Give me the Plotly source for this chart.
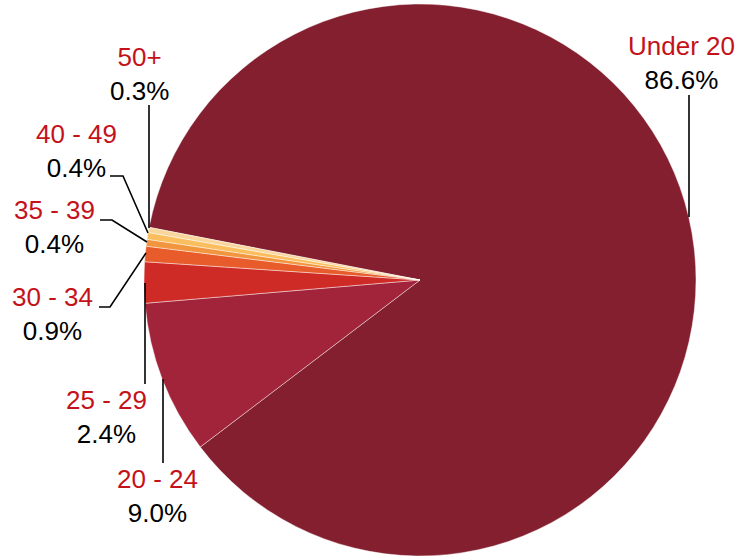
import plotly.graph_objects as go

# ---- data ----
categories = ["Under 20", "20 - 24", "25 - 29", "30 - 34", "35 - 39", "40 - 49", "50+"]
shares = [86.6, 9.0, 2.4, 0.9, 0.4, 0.4, 0.3]
pct_labels = ["86.6%", "9.0%", "2.4%", "0.9%", "0.4%", "0.4%", "0.3%"]
colors = ["#841F2F", "#A2243B", "#CE2A26", "#E85B2B", "#F2953F", "#FBBE5E", "#F8D69C"]

W, H = 740, 557

# ---- layout helpers (pixel positions of labels / leader lines) ----
label_pos = {
    "Under 20": (681, 63),
    "20 - 24": (157, 496),
    "25 - 29": (106, 417),
    "30 - 34": (52, 314),
    "35 - 39": (54, 227),
    "40 - 49": (76, 151),
    "50+": (139, 74),
}
leaders = {
    "Under 20": [(689, 95), (689, 217)],
    "50+": [(149, 105), (149, 228)],
    "40 - 49": [(110, 176), (123, 176), (148, 233)],
    "35 - 39": [(100, 220), (112, 220), (147, 242)],
    "30 - 34": [(99, 307), (110, 307), (146, 253)],
    "25 - 29": [(145, 283), (145, 384)],
    "20 - 24": [(163, 379), (163, 463)],
}

def px(x):
    return x / W

def py(y):
    return 1 - y / H

fig = go.Figure(go.Pie(
    labels=categories,
    values=shares,
    sort=False,
    direction="clockwise",
    rotation=-79,
    marker=dict(colors=colors, line=dict(color="rgba(255,255,255,0.55)", width=0.8)),
    textinfo="none",
    hoverinfo="label+percent",
    showlegend=False,
    domain=dict(x=[px(144), px(696)], y=[py(556), py(4)]),
))

annotations = []
for cat, pct in zip(categories, pct_labels):
    x, y = label_pos[cat]
    annotations.append(dict(
        x=px(x), y=py(y), xref="paper", yref="paper",
        text=f"<span style='color:#C4121A'>{cat}</span><br>{pct}",
        showarrow=False, xanchor="center", yanchor="middle", align="center",
        font=dict(family="Liberation Sans, Arial, sans-serif", size=26, color="#000000"),
    ))

shapes = []
for cat in categories:
    pts = leaders[cat]
    path = "M " + " L ".join(f"{px(a)},{py(b)}" for a, b in pts)
    shapes.append(dict(type="path", path=path, xref="paper", yref="paper",
                       line=dict(color="#000000", width=1.6)))

fig.update_layout(
    width=W, height=H,
    margin=dict(l=0, r=0, t=0, b=0),
    paper_bgcolor="#FFFFFF",
    plot_bgcolor="#FFFFFF",
    annotations=annotations,
    shapes=shapes,
)

fig.write_html(
    "out.html",
    config={"displayModeBar": False},
    post_script="document.body.style.margin='0px';document.body.style.overflow='hidden';",
)
